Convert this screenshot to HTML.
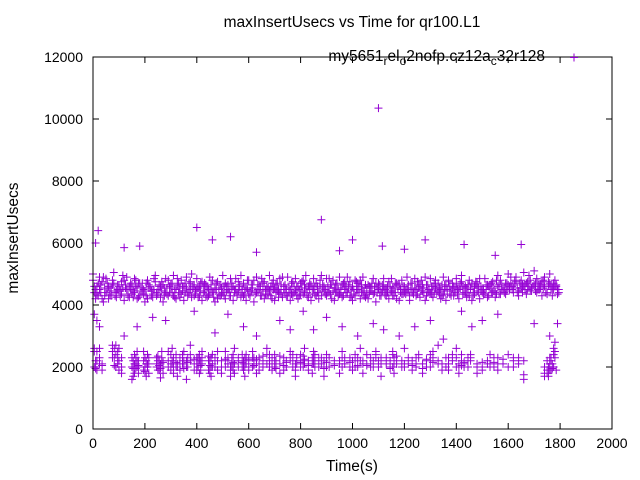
<!DOCTYPE html>
<html><head><meta charset="utf-8"><style>
body{margin:0;background:#fff;}
svg{display:block;font-family:"Liberation Sans",sans-serif;}
</style></head><body>
<svg id="chart" width="640" height="480" viewBox="0 0 640 480" xmlns="http://www.w3.org/2000/svg">
<rect width="640" height="480" fill="#fff"/>
<text x="352" y="27" font-size="15.5" text-anchor="middle" fill="#000">maxInsertUsecs vs Time for qr100.L1</text>
<text transform="translate(18,238) rotate(-90)" font-size="15.5" text-anchor="middle" fill="#000">maxInsertUsecs</text>
<text x="352" y="471" font-size="15.5" text-anchor="middle" fill="#000">Time(s)</text>
<g id="axes"></g>
<g id="points"></g>
<rect x="93" y="57" width="519" height="372" fill="none" stroke="#000" stroke-width="1"/>
<g>
<text x="545" y="61" font-size="15.5" text-anchor="end" fill="#000">my5651<tspan font-size="12" dy="4">r</tspan><tspan dy="-4">el</tspan><tspan font-size="12" dy="4">o</tspan><tspan dy="-4">2nofp.cz12a</tspan><tspan font-size="12" dy="4">c</tspan><tspan dy="-4">32r128</tspan></text>
<path d="M570,57.5h8M574,53.5v8" stroke="#9400d3" stroke-width="1"/>
</g>
</svg>
<script>
const xTicks=[0,200,400,600,800,1000,1200,1400,1600,1800,2000];
const yTicks=[0,2000,4000,6000,8000,10000,12000];
const upperTimes=[0,10,20,30,40,50,60,70,80,90,100,110,120,130,140,150,160,170,180,190,200,210,220,230,240,250,260,270,280,290,300,310,320,330,340,350,360,370,380,390,400,410,420,430,440,450,460,470,480,490,500,510,520,530,540,550,560,570,580,590,600,610,620,630,640,650,660,670,680,690,700,710,720,730,740,750,760,770,780,790,800,810,820,830,840,850,860,870,880,890,900,910,920,930,940,950,960,970,980,990,1000,1010,1020,1030,1040,1050,1060,1070,1080,1090,1100,1110,1120,1130,1140,1150,1160,1170,1180,1190,1200,1210,1220,1230,1240,1250,1260,1270,1280,1290,1300,1310,1320,1330,1340,1350,1360,1370,1380,1390,1400,1410,1420,1430,1440,1450,1460,1470,1480,1490,1500,1510,1520,1530,1540,1550,1560,1570,1580,1590,1600,1610,1620,1630,1640,1650,1660,1670,1680,1690,1700,1710,1720,1730,1740,1750,1760,1770,1780,1790];
const upperTimesB=[5,15,25,35,45,55,65,75,85,95,105,115,125,135,145,155,165,175,185,195,205,215,225,235,245,255,265,275,285,295,305,315,325,335,345,355,365,375,385,395,405,415,425,435,445,455,465,475,485,495,505,515,525,535,545,555,565,575,585,595,605,615,625,635,645,655,665,675,685,695,705,715,725,735,745,755,765,775,785,795,805,815,825,835,845,855,865,875,885,895,905,915,925,935,945,955,965,975,985,995,1005,1015,1025,1035,1045,1055,1065,1075,1085,1095,1105,1115,1125,1135,1145,1155,1165,1175,1185,1195,1205,1215,1225,1235,1245,1255,1265,1275,1285,1295,1305,1315,1325,1335,1345,1355,1365,1375,1385,1395,1405,1415,1425,1435,1445,1455,1465,1475,1485,1495,1505,1515,1525,1535,1545,1555,1565,1575,1585,1595,1605,1615,1625,1635,1645,1655,1665,1675,1685,1695,1705,1715,1725,1735,1745,1755,1765,1775,1785,1795];
const upperValuesA=[4800,4500,4300,4650,4900,4400,4200,4550,4700,4450,4600,4350,4800,4500,4250,4650,4400,4550,4300,4700,4450,4200,4600,4350,4750,4500,4250,4650,4400,4800,4550,4300,4500,4700,4350,4600,4900,4400,4250,4650,4500,4300,4750,4450,4600,4350,4800,4550,4200,4650,4400,4700,4500,4300,4600,4850,4450,4250,4700,4550,4350,4650,4800,4400,4500,4300,4750,4600,4450,4200,4550,4700,4400,4900,4650,4300,4500,4750,4450,4600,4350,4800,4550,4250,4650,4500,4700,4400,4300,4600,4850,4450,4200,4550,4700,4350,4650,4500,4400,4750,4600,4300,4500,4800,4450,4250,4650,4550,4350,4700,4500,4400,4600,4300,4750,4450,4550,4200,4650,4800,4400,4500,4300,4700,4550,4350,4600,4450,4900,4650,4400,4250,4550,4700,4500,4350,4600,4800,4450,4300,4650,4500,4750,4400,4550,4300,4700,4600,4450,4850,4500,4350,4650,4550,4750,4400,4600,4800,4500,4700,4650,4900,4550,4750,4450,4800,4600,4700,4950,4550,4650,4850,4500,4750,4600,4400,4700,4550,4800,4500];
const upperValuesB=[5000,4200,4700,4400,4100,4850,4600,4300,5050,4250,4500,4750,4150,4900,4600,4350,4850,4200,4700,4450,4100,4800,4550,4250,4950,4350,4600,4100,4850,4300,4650,4950,4200,4400,4800,4150,4550,4700,5000,4300,4850,4600,4150,4700,4250,4900,4400,4100,4750,4300,4950,4200,4650,4850,4150,4500,4750,4950,4300,4150,4800,4450,4100,4900,4650,4850,4200,4350,4950,4700,4150,4450,4850,4250,4400,4900,4150,4300,4850,4200,4700,4350,4950,4600,4150,4850,4300,4200,4950,4450,4300,4850,4650,4150,4400,4900,4250,4750,4900,4250,4150,4800,4700,4200,4900,4650,4200,4450,4850,4100,4700,4300,4850,4550,4200,4850,4300,4700,4150,4350,4600,4900,4150,4400,4850,4750,4250,4650,4150,4400,4850,4600,4800,4450,4200,4900,4150,4750,4300,4600,4850,4200,4950,4550,4250,4800,4150,4350,4700,4200,4400,4850,4250,4650,4400,4250,4950,4350,4500,4350,5000,4700,4400,4900,4300,4550,5050,4350,4600,4450,5100,4400,4600,4300,4900,4350,5000,4300,4600,4350];
const upperValuesC=[4400,4600,4900,4200,4550,4700,4350,4800,4300,4650,4450,4950,4550,4300,4700,4450,4800,4250,4550,4350,4700,4550,4300,4850,4400,4600,4750,4300,4550,4400,4700,4500,4850,4250,4600,4400,4300,4750,4550,4450,4250,4700,4400,4650,4300,4550,4250,4700,4500,4350,4600,4450,4300,4700,4500,4350,4600,4400,4550,4800,4300,4550,4400,4650,4300,4700,4500,4350,4600,4800,4400,4250,4650,4500,4300,4550,4700,4400,4600,4300,4750,4400,4300,4700,4500,4350,4600,4800,4550,4350,4400,4650,4800,4400,4300,4550,4700,4400,4650,4300,4500,4750,4400,4650,4300,4550,4400,4700,4600,4400,4300,4650,4500,4400,4600,4300,4700,4550,4400,4600,4350,4500,4700,4400,4300,4550,4800,4400,4650,4500,4350,4700,4400,4550,4300,4650,4500,4350,4700,4400,4500,4700,4350,4600,4400,4550,4300,4750,4400,4600,4500,4650,4300,4700,4450,4800,4350,4650,4400,4700,4500,4600,4800,4550,4700,4400,4650,4500,4800,4600,4450,4700,4550,4800,4400,4650,4500,4700,4600,4400];
const upperValuesD=[4600,4350,4500,4750,4300,4550,4450,4650,4400,4500,4300,4550,4650,4350,4500,4250,4600,4700,4450,4500,4300,4650,4450,4500,4300,4650,4450,4550,4350,4600,4400,4250,4650,4550,4450,4700,4350,4500,4600,4350,4550,4450,4600,4300,4500,4650,4400,4500,4350,4550,4300,4600,4400,4550,4400,4300,4650,4500,4350,4500,4450,4650,4350,4500,4600,4450,4350,4550,4300,4500,4650,4500,4350,4600,4500,4400,4350,4600,4300,4500,4550,4650,4400,4500,4350,4600,4400,4550,4650,4500,4600,4350,4450,4650,4500,4400,4300,4600,4550,4450,4350,4500,4600,4400,4550,4350,4600,4450,4400,4550,4650,4450,4350,4600,4450,4550,4400,4650,4500,4350,4450,4650,4550,4350,4500,4650,4450,4550,4300,4450,4600,4400,4550,4350,4650,4450,4350,4600,4550,4450,4350,4550,4600,4400,4650,4500,4400,4650,4550,4450,4350,4500,4600,4400,4550,4350,4650,4500,4550,4450,4600,4500,4700,4400,4550,4650,4500,4750,4450,4600,4700,4500,4650,4550,4400,4750,4600,4500,4650,4500];
const lowerTimes=[5,10,15,25,35,75,82,88,95,100,110,150,155,160,165,170,175,195,200,205,210,215,245,250,255,260,265,270,290,300,305,310,320,325,335,345,350,360,365,375,390,400,405,410,415,420,445,450,455,460,470,480,495,510,520,530,535,540,545,560,575,580,585,590,600,615,620,630,640,655,670,680,690,700,705,720,735,745,760,770,780,785,800,810,815,830,845,850,855,870,880,890,900,910,930,950,960,970,990,1000,1010,1020,1030,1040,1055,1070,1080,1090,1100,1110,1130,1145,1155,1160,1170,1190,1200,1215,1230,1245,1255,1270,1285,1300,1310,1330,1345,1360,1370,1385,1400,1410,1420,1430,1445,1455,1480,1500,1520,1530,1545,1560,1580,1600,1620,1640,1660,1740,1750,1755,1760,1765,1770,1775,1780,1785];
const lowerValues=[2600,2000,2500,2100,1900,2700,2300,2000,2500,2200,1800,2300,1700,2100,1950,2500,1800,2200,2000,1700,2400,2100,2300,1900,2200,1650,2500,2000,2200,1900,2600,2000,2400,1700,2300,2100,2500,1600,2000,2700,1900,2300,2100,1800,2200,2500,1900,2200,1700,2400,2000,2200,1800,2500,2100,1700,2300,1900,2600,2000,2400,2200,1700,2100,1900,2500,2200,1800,2300,2000,2600,2200,1900,2400,2100,1800,2300,2000,2500,2200,1700,2100,2400,2000,2600,2200,1800,2500,2000,2300,2100,1700,2400,2000,2200,1800,2500,2100,2300,1900,2200,2000,2600,1800,2400,2100,2000,2500,2200,1700,2300,2000,2500,1800,2200,2000,2600,2300,1900,2100,2400,1800,2200,2000,2500,2700,2100,2300,1900,2200,2600,1800,2400,2100,2000,2300,1800,1900,2200,2000,2300,1900,2100,2400,2000,2200,1600,1700,1800,2000,2300,1900,2100,2600,2800];
const lowerValuesB=[2000,2200,1900,2300,2100,2300,2600,2400,2100,1900,2300,1600,2200,1800,2300,2000,2200,1900,2300,2100,2000,1800,2000,2200,1900,2100,2200,1800,2000,2400,2100,2300,2000,2100,1900,2400,2200,2000,2300,2200,2100,1900,2300,2200,1900,2100,2200,1800,2300,2000,2300,1900,2200,2000,2300,2000,2100,2400,1800,2300,2000,1900,2300,2200,2100,2000,2300,2100,1900,2200,2100,2400,2300,2000,2200,2100,1900,2200,2300,2000,2100,2300,2000,2200,2100,1900,2300,2100,2200,2000,2300,2200,2000,2300,2100,2200,2000,2300,2000,2200,2000,2300,2200,2100,2100,2000,2200,2300,2000,2100,2100,2200,2000,2300,2100,2200,2000,2100,2200,2000,2300,2100,2000,2200,2300,2100,2100,2000,2300,2200,2000,2100,2200,2000,2200,2400,2100,2000,2200,2100,2000,2300,2100,2000,2200,2100,2200,1800,1900,1700,1900,2200,2100,2000,2300,1900];
const lowerValuesC=[2500,1950,2200,2600,2050,2500,2050,2700,2300,2600,2000,2000,1950,2400,2100,2200,2050,2500,1850,2200,2100,2300,2100,2350,2050,1950,2300,2150,2500,2100,2200,1800,2150,2000,2100,2200,1950,2200,2150,2400,2250,2100,2000,2400,2050,2300,2350,2050,2000,2100,2200,2500,2000,2250,2200,1900,2000,2150,2100,2200,2150,2100,2000,2400,2250,2300,2050,2250,2100,2350,2400,2000,2100,2200,1950,2350,2050,2150,2200,2400,1900,2200,2150,2350,2250,2050,2100,2300,2400,2100,2200,1950,2150,2300,2050,2100,2300,2200,2150,2000,2400,2050,2200,2200,2050,2300,2200,2400,2100,2300,2200,1950,2400,2100,2350,2000,2100,2200,2050,2300,2300,1950,2250,2400,2150,2200,1900,2300,2100,2400,2300,2000,2050,2150,2300,2200,2000,2150,2100,2400,2150,2100,2250,2000,2300,2300,1750,2000,2200,1800,2100,2300,1950,2400,2500];
const strayTimes=[5,15,25,120,170,230,280,390,470,520,580,630,720,760,810,850,900,960,1020,1080,1120,1180,1240,1300,1350,1420,1460,1500,1560,1700,1760,1790];
const strayValues=[3700,3500,3300,3000,3300,3600,3500,3800,3100,3700,3300,3000,3500,3200,3800,3200,3600,3300,3000,3400,3200,3000,3300,3500,2900,3800,3300,3500,3700,3400,3000,3400];
const outlierTimes=[1100,880,20,400,530,460,1000,1280,1650,1430,180,10,120,1115,630,1200,1550,950];
const outlierValues=[10350,6750,6400,6500,6200,6100,6100,6100,5950,5950,5900,6000,5850,5900,5700,5800,5600,5750];

const X0=93,X1=612,Y0=429,Y1=57;
function xs(v){return X0+(v-0)/(2000-0)*(X1-X0);}
function ys(v){return Y0-(v-0)/(12000-0)*(Y0-Y1);}
const NS="http://www.w3.org/2000/svg";
const axes=document.getElementById('axes');
xTicks.forEach(t=>{
  const x=xs(t);
  const p=document.createElementNS(NS,'path');
  p.setAttribute('d',`M${x},429v-6M${x},57v6`);
  p.setAttribute('stroke','#000');
  
  
  axes.appendChild(p);
  const tx=document.createElementNS(NS,'text');
  tx.setAttribute('x',x);tx.setAttribute('y',448);
  tx.setAttribute('font-size','14');tx.setAttribute('text-anchor','middle');
  
  
  tx.textContent=t;axes.appendChild(tx);
});
yTicks.forEach(t=>{
  const y=ys(t);
  const p=document.createElementNS(NS,'path');
  p.setAttribute('d',`M93,${y}h6M612,${y}h-6`);
  p.setAttribute('stroke','#000');
  
  
  axes.appendChild(p);
  const tx=document.createElementNS(NS,'text');
  tx.setAttribute('x',83);tx.setAttribute('y',y+5);
  tx.setAttribute('font-size','14');tx.setAttribute('text-anchor','end');
  
  
  tx.textContent=t;axes.appendChild(tx);
});
const g=document.getElementById('points');
let d='';
function add(ts,vs){for(let i=0;i<ts.length&&i<vs.length;i++){const x=xs(ts[i]),y=ys(vs[i]);d+=`M${x-4},${y}h8M${x},${y-4}v8`;}}
add(upperTimes,upperValuesA);
add(upperTimes,upperValuesB);
add(upperTimesB,upperValuesC);
add(upperTimesB,upperValuesD);
add(lowerTimes,lowerValues);
add(lowerTimes,lowerValuesB);
add(lowerTimes,lowerValuesC);
add(strayTimes,strayValues);
add(outlierTimes,outlierValues);
const path=document.createElementNS(NS,'path');
path.setAttribute('d',d);
path.setAttribute('stroke','#9400d3');
path.setAttribute('stroke-width','1');
path.setAttribute('fill','none');


g.appendChild(path);
</script>
</body></html>
